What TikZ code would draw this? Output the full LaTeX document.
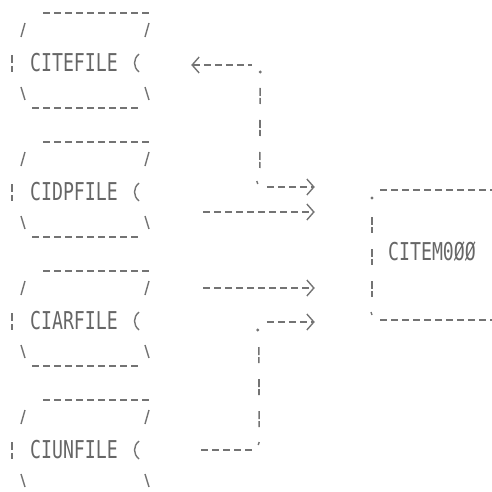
\documentclass[tikz,border=0pt]{standalone}
\usepackage{fontspec}
\usepackage{graphicx}
\setmonofont{DejaVu Sans Mono}
\usetikzlibrary{arrows.meta,calc}
\newcommand{\printed}[1]{\scalebox{1}[1.35]{#1}}

\begin{document}
\begin{tikzpicture}[x=0.5pt,y=-0.5pt,
    >={Straight Barb[length=3.5pt,width=8pt,line width=0.7pt,sep=2pt]},
    printout/.style={inner sep=0pt,text=black!60,font=\fontsize{9.1pt}{11pt}\ttfamily},
    hdash/.style={draw=black!55,line width=1pt,dash pattern=on 3.5pt off 2pt},
    vdash/.style={draw=black!55,line width=0.8pt,dash pattern=on 4pt off 1pt on 3pt off 8pt},
    glyph/.style={draw=black!55,line width=0.7pt},
    speck/.style={fill=black!55}]
    \useasboundingbox (0,0) rectangle (492,492);
    \clip (0,0) rectangle (492,492);
    \node[printout] (citefile) at (74,63) {\printed{CITEFILE}};
    \node[printout] (cidpfile) at (74,192) {\printed{CIDPFILE}};
    \node[printout] (ciarfile) at (74,321) {\printed{CIARFILE}};
    \node[printout] (ciunfile) at (74,450) {\printed{CIUNFILE}};
    \node[printout] (citem) at (432,252) {\printed{CITEM0ØØ}};
    %
    \foreach \f in {citefile,cidpfile,ciarfile,ciunfile}{
        \draw[hdash] ($(\f.center)+(-31,-50)$) -- ++(106,0);
        \draw[hdash] ($(\f.center)+(-42,45)$) -- ++(106,0);
        \draw[glyph] ($(\f.center)+(-53,-26)$) -- ++(4,-14);
        \draw[glyph] ($(\f.center)+(71,-26)$) -- ++(4,-14);
        \draw[glyph] ($(\f.center)+(-62,-8)$) -- ++(0,8) ++(0,3) -- ++(0,6);
        \draw[glyph] ($(\f.center)+(65,-9)$) .. controls ($(\f.center)+(59,-4)$) and ($(\f.center)+(59,4)$) .. ($(\f.center)+(65,9)$);
        \draw[glyph] ($(\f.center)+(-53,24)$) -- ++(4,13);
        \draw[glyph] ($(\f.center)+(71,24)$) -- ++(4,13);
    }
    %
    \draw[hdash] ($(citem.center)+(-52,-62)$) -- ++(130,0);
    \draw[hdash] ($(citem.center)+(-52,68)$) -- ++(130,0);
    \draw[vdash] ($(citem.center)+(-60,-35)$) -- ++(0,81);
    \fill[speck] ($(citem.center)+(-60,-54)$) circle (0.8pt);
    \draw[glyph] ($(citem.center)+(-61,60)$) -- ++(1,3);
    %
    \coordinate (teport) at ($(citefile.east)+(69,2)$);
    \coordinate (tebend) at ($(citefile.east)+(142,2)$);
    \coordinate (tedrop) at ($(citem.west)+(-128,-65)$);
    \coordinate (teend) at ($(citem.west)+(-69,-65)$);
    \draw[hdash,<-,shorten >=4pt] (teport) -- (tebend);
    \draw[vdash,shorten <=11.5pt,shorten >=8.5pt] (tebend) -- (tedrop);
    \draw[hdash,->,shorten <=3.5pt] (tedrop) -- (teend);
    \fill[speck] ($(tebend)+(0,7)$) circle (0.8pt);
    \draw[glyph] ($(tedrop)+(-3,-6)$) -- ++(1,3);
    %
    \coordinate (dpport) at ($(cidpfile.east)+(85,20)$);
    \coordinate (dpend) at ($(citem.west)+(-69,-40)$);
    \draw[hdash,->] (dpport) -- (dpend);
    %
    \coordinate (arport) at ($(ciarfile.east)+(85,-33)$);
    \coordinate (arend) at ($(citem.west)+(-69,36)$);
    \draw[hdash,->] (arport) -- (arend);
    %
    \coordinate (unport) at ($(ciunfile.east)+(83,0)$);
    \coordinate (unbend) at ($(ciunfile.east)+(141,0)$);
    \coordinate (unrise) at ($(citem.west)+(-129,70)$);
    \coordinate (unend) at ($(citem.west)+(-69,70)$);
    \draw[hdash,shorten >=3.5pt] (unport) -- (unbend);
    \draw[vdash,shorten <=12.5pt,shorten >=11pt] (unrise) -- (unbend);
    \draw[hdash,->,shorten <=4pt] (unrise) -- (unend);
    \fill[speck] ($(unrise)+(-1,8)$) circle (0.8pt);
    \draw[glyph] ($(unbend)+(0,-8)$) -- ++(-1,3);
\end{tikzpicture}
\end{document}
